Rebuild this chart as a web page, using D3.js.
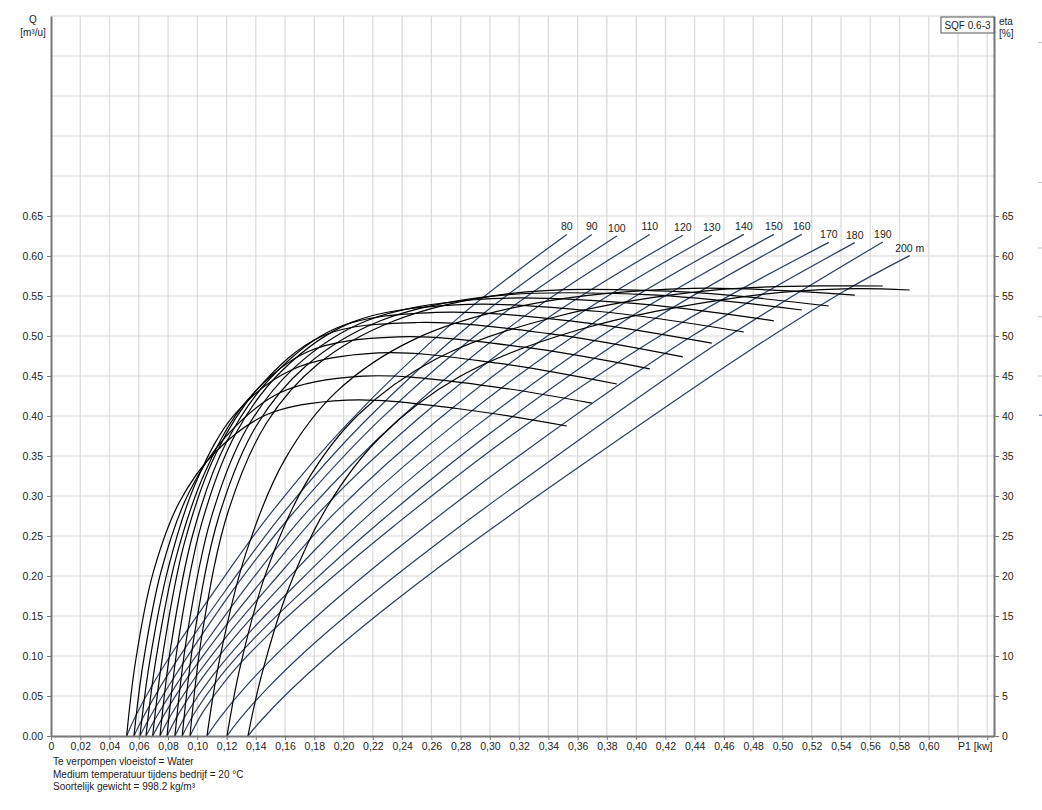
<!DOCTYPE html>
<html><head><meta charset="utf-8">
<script src="https://cdn.jsdelivr.net/npm/d3@7"></script>
<style>
body{margin:0;background:#fff;}
svg text{font-family:"Liberation Sans",Arial,sans-serif;fill:#222;}
</style>
</head><body>
<svg id="chart" width="1042" height="810"></svg>
<script>
// ---- data ----
const heads = [80, 90, 100, 110, 120, 130, 140, 150, 160, 170, 180, 190, 200];
const headLabels = ["80","90","100","110","120","130","140","150","160","170","180","190","200 m"];

// P1 [kW] sample positions along each head curve
const p1ByHead = [
  [0.0517, 0.0577, 0.0698, 0.0878, 0.1119, 0.1480, 0.2022, 0.2774, 0.3526],
  [0.0567, 0.0630, 0.0755, 0.0943, 0.1193, 0.1569, 0.2132, 0.2915, 0.3697],
  [0.0608, 0.0673, 0.0804, 0.0999, 0.1260, 0.1651, 0.2238, 0.3053, 0.3868],
  [0.0649, 0.0718, 0.0856, 0.1062, 0.1338, 0.1751, 0.2371, 0.3232, 0.4093],
  [0.0695, 0.0768, 0.0912, 0.1130, 0.1420, 0.1855, 0.2507, 0.3413, 0.4319],
  [0.0745, 0.0820, 0.0971, 0.1198, 0.1499, 0.1952, 0.2631, 0.3574, 0.4517],
  [0.0793, 0.0872, 0.1030, 0.1266, 0.1582, 0.2055, 0.2765, 0.3750, 0.4736],
  [0.0847, 0.0929, 0.1093, 0.1338, 0.1666, 0.2157, 0.2894, 0.3918, 0.4941],
  [0.0897, 0.0982, 0.1151, 0.1405, 0.1744, 0.2252, 0.3015, 0.4073, 0.5132],
  [0.0950, 0.1037, 0.1212, 0.1474, 0.1823, 0.2347, 0.3134, 0.4225, 0.5317],
  [0.1066, 0.1155, 0.1332, 0.1597, 0.1952, 0.2483, 0.3280, 0.4387, 0.5494],
  [0.1203, 0.1293, 0.1472, 0.1741, 0.2100, 0.2638, 0.3445, 0.4565, 0.5686],
  [0.1346, 0.1436, 0.1617, 0.1889, 0.2251, 0.2794, 0.3608, 0.4739, 0.5418, 0.5870]
];
// Q [m3/h] at those P1 values (blue curves)
const qByHead = [
  [0, 0.0244, 0.0653, 0.1178, 0.1818, 0.2732, 0.3895, 0.5211, 0.6270],
  [0, 0.0235, 0.0639, 0.1170, 0.1819, 0.2746, 0.3909, 0.5219, 0.6270],
  [0, 0.0225, 0.0625, 0.1177, 0.1865, 0.2778, 0.3936, 0.5226, 0.6250],
  [0, 0.0232, 0.0639, 0.1181, 0.1870, 0.2804, 0.3947, 0.5242, 0.6270],
  [0, 0.0249, 0.0674, 0.1224, 0.1891, 0.2836, 0.3963, 0.5246, 0.6260],
  [0, 0.0262, 0.0694, 0.1240, 0.1892, 0.2810, 0.3932, 0.5228, 0.6260],
  [0, 0.0277, 0.0717, 0.1258, 0.1896, 0.2785, 0.3905, 0.5217, 0.6270],
  [0, 0.0284, 0.0726, 0.1258, 0.1878, 0.2739, 0.3858, 0.5189, 0.6270],
  [0, 0.0290, 0.0730, 0.1251, 0.1852, 0.2681, 0.3802, 0.5155, 0.6270],
  [0, 0.0296, 0.0736, 0.1246, 0.1828, 0.2629, 0.3741, 0.5072, 0.6170],
  [0, 0.0231, 0.0620, 0.1124, 0.1713, 0.2510, 0.3610, 0.5005, 0.6167],
  [0, 0.0216, 0.0583, 0.1062, 0.1629, 0.2404, 0.3485, 0.4919, 0.6175],
  [0, 0.0194, 0.0537, 0.0994, 0.1544, 0.2304, 0.3362, 0.4776, 0.5557, 0.6005]
];
// eta [%] at those P1 values (black curves)
const etaByHead = [
  [0, 9.22, 20.39, 29.25, 35.41, 40.22, 41.99, 40.94, 38.75],
  [0, 9.13, 20.75, 30.43, 37.40, 42.94, 44.98, 43.93, 41.60],
  [0, 9.12, 21.18, 32.07, 40.30, 45.82, 47.89, 46.61, 44.00],
  [0, 9.68, 22.39, 33.34, 41.90, 48.00, 49.88, 48.60, 45.90],
  [0, 10.62, 24.15, 35.41, 43.54, 50.00, 51.69, 50.27, 47.40],
  [0, 11.30, 25.31, 36.68, 44.72, 51.00, 52.95, 51.83, 49.10],
  [0, 12.10, 26.57, 37.91, 45.72, 51.70, 53.88, 53.06, 50.50],
  [0, 12.49, 27.15, 38.43, 46.08, 51.90, 54.53, 54.17, 51.90],
  [0, 12.87, 27.66, 38.82, 46.29, 51.90, 54.98, 55.16, 53.25],
  [0, 13.22, 28.12, 39.16, 46.46, 51.90, 55.30, 55.60, 53.75],
  [0, 9.81, 22.83, 34.52, 43.04, 49.58, 53.99, 55.96, 55.10],
  [0, 8.65, 20.51, 31.58, 40.16, 47.18, 52.38, 55.79, 56.25],
  [0, 7.36, 18.10, 28.68, 37.38, 44.94, 50.78, 54.93, 55.90, 55.75]
];

const xTickValues = [0,0.02,0.04,0.06,0.08,0.10,0.12,0.14,0.16,0.18,0.20,0.22,0.24,0.26,0.28,0.30,0.32,0.34,0.36,0.38,0.40,0.42,0.44,0.46,0.48,0.50,0.52,0.54,0.56,0.58,0.60,0.62,0.64];
const xLabelMax = 0.60;
const qTickValues = [0,0.05,0.10,0.15,0.20,0.25,0.30,0.35,0.40,0.45,0.50,0.55,0.60,0.65];
const qGridValues = [0.05,0.10,0.15,0.20,0.25,0.30,0.35,0.40,0.45,0.50,0.55,0.60,0.65,0.70,0.75,0.80,0.85,0.90];
const etaTickValues = [0,5,10,15,20,25,30,35,40,45,50,55,60,65];
const footnotes = ["Te verpompen vloeistof = Water","Medium temperatuur tijdens bedrijf = 20 °C","Soortelijk gewicht = 998.2 kg/m³"];
// faint marks visible at the very right edge of the reference (eta-scale positions)
const edgeMarks = [86.7, 69.2, 61.0, 52.4, 45.0];
const edgeMarkBlue = [40.1];

// ---- layout ----
const L = 51, R = 994, T = 16, B = 736;
const svg = d3.select("#chart");
const x = d3.scaleLinear().domain([0, 0.6446]).range([L, R]);
const yQ = d3.scaleLinear().domain([0, 0.9]).range([B, T]);
const yE = d3.scaleLinear().domain([0, 90]).range([B, T]);

// grid
const grid = svg.append("g").attr("stroke", "#dadada").attr("stroke-width", 1.2);
grid.selectAll("line.v").data(xTickValues.filter(d => d > 0)).join("line")
  .attr("x1", d => x(d)).attr("x2", d => x(d)).attr("y1", T).attr("y2", B);
grid.selectAll("line.h").data(qGridValues).join("line")
  .attr("x1", L).attr("x2", R).attr("y1", d => yQ(d)).attr("y2", d => yQ(d));

// curves
const smooth = d3.curveCatmullRom.alpha(0.5);
const lineQ = d3.line().x(d => x(d[0])).y(d => yQ(d[1])).curve(smooth);
const lineE = d3.line().x(d => x(d[0])).y(d => yE(d[1])).curve(smooth);

svg.append("g").selectAll("path").data(heads).join("path")
  .attr("fill", "none").attr("stroke", "#2c3e5c").attr("stroke-width", 1.2)
  .attr("d", (h, i) => lineQ(p1ByHead[i].map((p, j) => [p, qByHead[i][j]])));

svg.append("g").selectAll("path").data(heads).join("path")
  .attr("fill", "none").attr("stroke", "#000").attr("stroke-width", 1.2)
  .attr("d", (h, i) => lineE(p1ByHead[i].map((p, j) => [p, etaByHead[i][j]])));

// head labels
svg.append("g").selectAll("text").data(headLabels).join("text")
  .attr("x", (d, i) => x(p1ByHead[i][p1ByHead[i].length - 1]))
  .attr("y", (d, i) => yQ(qByHead[i][qByHead[i].length - 1]) - 4)
  .attr("text-anchor", "middle").attr("font-size", 10.5).text(d => d);

// axes
function styleAxis(g) {
  g.select(".domain").attr("stroke", "#777").attr("stroke-width", 2);
  g.selectAll(".tick line").attr("stroke", "#777");
  g.selectAll(".tick text").attr("font-size", 10.5).attr("fill", "#222")
    .attr("font-family", "Liberation Sans, Arial, sans-serif");
}
const fmtX = d => d === 0 ? "0" : (d > xLabelMax + 1e-9 ? "" : d3.format(".2f")(d).replace(".", ","));
svg.append("g").attr("transform", `translate(0,${B})`)
  .call(d3.axisBottom(x).tickValues(xTickValues).tickFormat(fmtX).tickSize(4).tickSizeOuter(0).tickPadding(3))
  .call(styleAxis);
svg.append("g").attr("transform", `translate(${L},0)`)
  .call(d3.axisLeft(yQ).tickValues(qTickValues).tickFormat(d3.format(".2f")).tickSize(4).tickSizeOuter(0).tickPadding(4))
  .call(styleAxis);
svg.append("g").attr("transform", `translate(${R},0)`)
  .call(d3.axisRight(yE).tickValues(etaTickValues).tickFormat(d3.format("d")).tickSize(5).tickSizeOuter(0).tickPadding(3))
  .call(styleAxis);

// axis titles
svg.append("text").attr("x", 33).attr("y", 23).attr("text-anchor", "middle").attr("font-size", 10).text("Q");
svg.append("text").attr("x", 33).attr("y", 36).attr("text-anchor", "middle").attr("font-size", 10).text("[m³/u]");
svg.append("text").attr("x", 999).attr("y", 25).attr("font-size", 10).text("eta");
svg.append("text").attr("x", 999).attr("y", 37).attr("font-size", 10).text("[%]");
svg.append("text").attr("x", 958).attr("y", 750).attr("font-size", 10.5).text("P1 [kw]");

// model box
svg.append("rect").attr("x", 941).attr("y", 17).attr("width", 53).attr("height", 16)
  .attr("fill", "#fff").attr("stroke", "#555").attr("stroke-width", 1);
svg.append("text").attr("x", 967.5).attr("y", 29).attr("text-anchor", "middle").attr("font-size", 10).text("SQF 0.6-3");

// faint edge marks
svg.append("g").selectAll("line").data(edgeMarks).join("line")
  .attr("x1", 1038).attr("x2", 1042).attr("y1", d => yE(d)).attr("y2", d => yE(d))
  .attr("stroke", "#c4c4c4").attr("stroke-width", 1);
svg.append("g").selectAll("line").data(edgeMarkBlue).join("line")
  .attr("x1", 1039).attr("x2", 1042).attr("y1", d => yE(d)).attr("y2", d => yE(d))
  .attr("stroke", "#6d83b0").attr("stroke-width", 1.2);

// footnotes
svg.append("g").selectAll("text").data(footnotes).join("text")
  .attr("x", 53).attr("y", (d, i) => 765 + i * 12.5).attr("font-size", 10).text(d => d);
</script>
</body></html>
